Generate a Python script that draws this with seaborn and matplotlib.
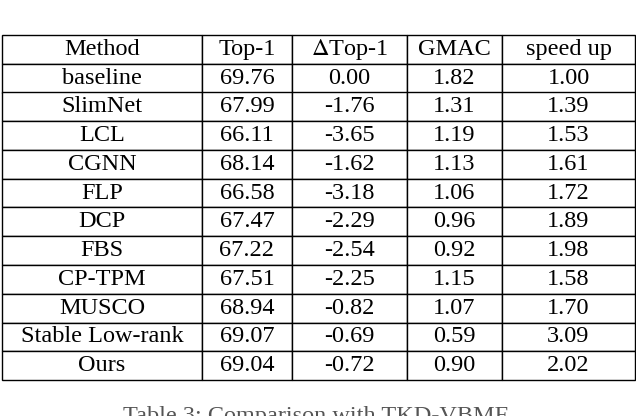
import matplotlib
matplotlib.use('Agg')
import matplotlib.pyplot as plt
import seaborn as sns

# --- data ---
header = ['Method', 'Top-1', r'$\Delta$Top-1', 'GMAC', 'speed up']
methods = ['baseline', 'SlimNet', 'LCL', 'CGNN', 'FLP', 'DCP', 'FBS', 'CP-TPM',
           'MUSCO', 'Stable Low-rank', 'Ours']
top1 = ['69.76', '67.99', '66.11', '68.14', '66.58', '67.47', '67.22', '67.51',
        '68.94', '69.07', '69.04']
delta_top1 = ['0.00', '-1.76', '-3.65', '-1.62', '-3.18', '-2.29', '-2.54', '-2.25',
              '-0.82', '-0.69', '-0.72']
gmac = ['1.82', '1.31', '1.19', '1.13', '1.06', '0.96', '0.92', '1.15', '1.07',
        '0.59', '0.90']
speedup = ['1.00', '1.39', '1.53', '1.61', '1.72', '1.89', '1.98', '1.58', '1.70',
           '3.09', '2.02']

sns.set_style('white')
plt.rcParams['font.family'] = ['Liberation Serif', 'DejaVu Serif']
plt.rcParams['mathtext.fontset'] = 'stix'

W, H = 636, 416
fig = plt.figure(figsize=(W / 100, H / 100), dpi=100)
ax = fig.add_axes([0, 0, 1, 1])
ax.axis('off')

rows = [list(r) for r in zip(methods, top1, delta_top1, gmac, speedup)]
col_px = [200, 90, 115, 95, 133]
tot = sum(col_px)
x0, x1 = 2 / W, 635 / W
ytop, ybot = 1 - 35 / H, 1 - 380 / H

tbl = ax.table(cellText=rows, colLabels=header, cellLoc='center',
               colWidths=[c / tot for c in col_px],
               bbox=[x0, ybot, x1 - x0, ytop - ybot])
tbl.auto_set_font_size(False)
tbl.set_fontsize(17.5)
for (r, c), cell in tbl.get_celld().items():
    cell.set_linewidth(1.0)
    cell.set_edgecolor('black')
    cell.get_text().set_color('black')

# cut-off caption at the bottom edge
fig.text(0.5, 1 - 406 / H, 'Table 3: Comparison with TKD-VBMF.', ha='center',
         va='top', fontsize=17.5, color='#555555')

fig.savefig('out.png', dpi=100)
